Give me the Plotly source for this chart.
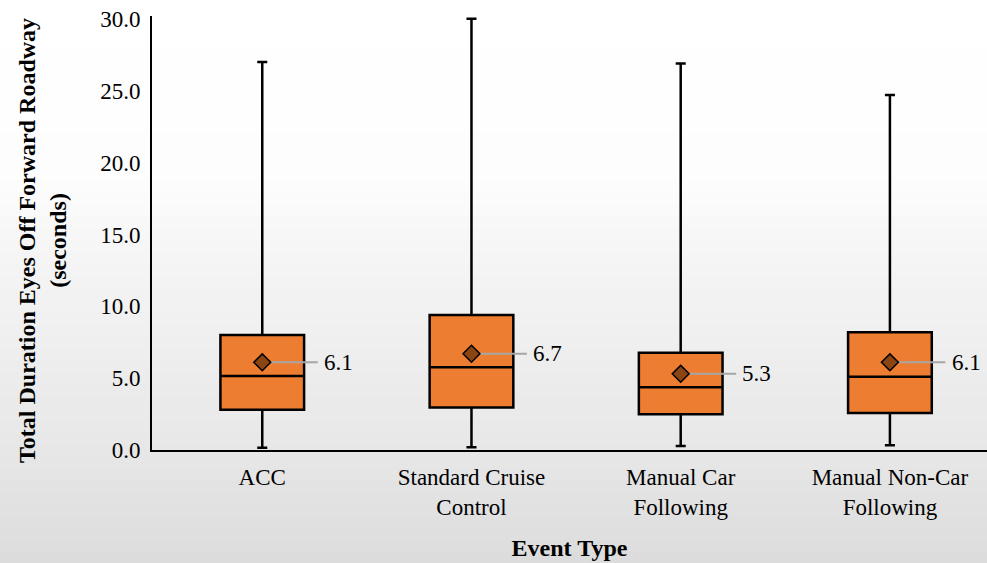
import plotly.graph_objects as go

categories = ["ACC", "Standard Cruise<br>Control", "Manual Car<br>Following", "Manual Non-Car<br>Following"]
lower = [0.15, 0.2, 0.28, 0.33]
q1 = [2.8, 2.95, 2.48, 2.57]
median = [5.15, 5.75, 4.36, 5.1]
q3 = [8.0, 9.4, 6.77, 8.2]
upper = [27.0, 30.0, 26.9, 24.7]
means = [6.1, 6.7, 5.3, 6.1]
mean_labels = ["6.1", "6.7", "5.3", "6.1"]
y_ticks = [0, 5, 10, 15, 20, 25, 30]

FONT = '"Liberation Serif", "Times New Roman", Times, serif'
xs = list(range(len(categories)))

fig = go.Figure()

fig.add_trace(go.Box(
    x=xs, q1=q1, median=median, q3=q3, lowerfence=lower, upperfence=upper,
    width=0.4, whiskerwidth=0.12,
    fillcolor="#ED7D31", line=dict(color="black", width=2.5),
    boxpoints=False, hoverinfo="skip", showlegend=False,
))

# leader lines to mean labels
for i, m in enumerate(means):
    fig.add_trace(go.Scatter(
        x=[xs[i], xs[i] + 0.265], y=[m, m], mode="lines",
        line=dict(color="#a6a6a6", width=2), showlegend=False, hoverinfo="skip",
    ))

fig.add_trace(go.Scatter(
    x=xs, y=means, mode="markers",
    marker=dict(symbol="diamond", size=13, color="#8B4513",
                line=dict(color="black", width=1.5)),
    showlegend=False, hoverinfo="skip",
))

for i, m in enumerate(means):
    fig.add_annotation(x=xs[i] + 0.285, y=m, text=mean_labels[i], showarrow=False,
                       xanchor="left", yanchor="middle",
                       font=dict(family=FONT, size=23, color="black"))

# background gradient bands (approximation of the textured backdrop)
W, H = 987, 563
L, B, T = 152, 113, 16
pw, ph = W - L, H - B - T
stops = [(0, 255), (170, 253), (250, 246), (350, 238), (450, 231), (563, 220)]
def gray_at(py):
    for (a, ca), (b, cb) in zip(stops, stops[1:]):
        if a <= py <= b:
            return ca + (cb - ca) * (py - a) / (b - a)
    return stops[-1][1]
step = 12
for py in range(0, H, step):
    g = int(round(gray_at(py + step / 2)))
    y0 = (H - B - (py + step)) / ph
    y1 = (H - B - py) / ph
    fig.add_shape(type="rect", xref="paper", yref="paper",
                  x0=-L / pw, x1=1.0, y0=y0, y1=y1,
                  fillcolor=f"rgb({g},{g},{g})", line=dict(width=0), layer="below")

# y-axis title as rotated annotation (centred like the reference)
fig.add_annotation(
    xref="paper", yref="paper", x=(43 - L) / pw, y=(H - B - 241) / ph,
    text="<b>Total Duration Eyes Off Forward Roadway<br>(seconds)</b>",
    textangle=-90, showarrow=False, xanchor="center", yanchor="middle",
    font=dict(family=FONT, size=24, color="black"),
)

fig.update_layout(
    width=W, height=H,
    margin=dict(l=L, r=0, t=T, b=B),
    paper_bgcolor="white", plot_bgcolor="rgba(0,0,0,0)",
    font=dict(family=FONT, size=24, color="black"),
    showlegend=False,
)
fig.update_xaxes(
    range=[-0.527, 3.464], tickvals=xs, ticktext=categories,
    showline=True, linecolor="black", linewidth=2, showgrid=False, zeroline=False,
    ticks="", tickfont=dict(family=FONT, size=23), ticklabelstandoff=5,
    title=dict(text="<b>Event Type</b>", font=dict(family=FONT, size=24), standoff=21),
)
fig.update_yaxes(
    range=[0, 30.2], tickvals=y_ticks, ticktext=[f"{v:.1f}" for v in y_ticks],
    showline=True, linecolor="black", linewidth=2, showgrid=False, zeroline=False,
    ticks="", tickfont=dict(family=FONT, size=23), ticklabelstandoff=5,
)

fig.write_html("out.html", config={"displayModeBar": False},
               post_script="document.body.style.margin='0';document.body.style.overflow='hidden';")
